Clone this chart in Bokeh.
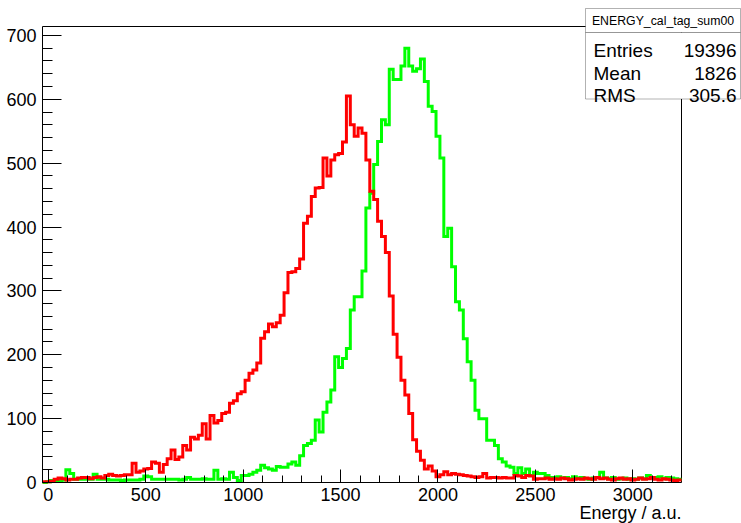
import numpy as np
from bokeh.plotting import figure
from bokeh.models import Range1d, SingleIntervalTicker, Label, BoxAnnotation, LinearAxis
from bokeh.embed import file_html
from bokeh.resources import INLINE

# ---- data ----
bin_start = -30
bin_width = 20
n_bins = 164

green_counts = [
    0, 1, 3, 3, 3, 4, 20, 14, 5, 5,
    5, 6, 5, 13, 5, 5, 5, 4, 4, 4,
    3, 4, 4,
    4, 4, 5, 10, 9, 5, 5, 5,
    5, 5, 5, 5, 4, 5, 8, 5, 5, 5,
    6, 5, 5, 19, 5, 6, 5, 16, 8, 3,
    11, 11, 13, 16, 19, 27, 23, 21, 19, 25,
    24, 24, 29, 32, 27, 42, 58, 61, 66, 98,
    79, 110, 126, 145, 197, 180, 194, 210, 270, 291,
    291, 331, 430, 453, 498, 534, 568, 560, 647, 631,
    631, 652, 680, 652, 644, 648, 663, 628, 589, 581,
    542, 508, 385, 398, 338, 283, 270, 225, 189, 160,
    113, 100, 100, 66, 66, 58, 37, 32, 26, 24,
    14, 23, 14, 21, 11, 16, 14,
    14,
    11, 8, 8,
    9, 7, 8, 6, 9, 7, 8, 6, 5, 7,
    8, 16, 7, 6, 8, 5, 6, 7, 5, 6,
    5, 7, 6, 11, 7, 8, 9, 6, 8, 7, 6, 5,
]

red_counts = [
    1, 1, 2, 5, 7, 6, 4, 5, 5, 7,
    8, 8, 6, 8, 9, 7, 11, 13, 11, 10,
    11, 12, 12,
    30, 16, 18, 21, 22, 32, 30, 16,
    28, 37, 51, 36, 40, 58, 51, 71, 68, 74,
    92, 68, 105, 93, 97, 108, 110, 124, 128, 139,
    142, 160, 171, 176, 187, 226, 236, 248, 244, 250,
    262, 297, 329, 330, 335, 350, 406, 417, 448, 461,
    462, 508, 480, 505, 513, 515, 533, 605, 560, 542,
    555, 547, 505, 456, 443, 409, 385, 360, 292, 232,
    196, 160, 137, 108, 67, 49, 35, 21, 26, 18,
    9, 12, 17, 12, 14, 13, 12, 11, 10, 9,
    8, 9, 14, 7, 8, 8, 7, 8, 7, 7,
    11, 10, 8, 11, 10, 5, 6,
    6,
    7, 5, 6,
    5, 7, 6, 4, 5, 6, 5, 7, 6, 5,
    8, 6, 7, 5, 4, 6, 7, 5, 6, 4,
    5, 7, 5, 6, 8, 5, 4, 6, 5, 4, 3, 4,
]

x_ticks_interval = 500
y_ticks_interval = 100
stats_title = "ENERGY_cal_tag_sum00"
stats_names = ["Entries", "Mean", "RMS"]
stats_values = ["19396", "1826", "305.6"]
x_title = "Energy / a.u."

# ---- geometry ----
edges = bin_start + bin_width * np.arange(n_bins + 1)
x0, x1 = float(edges[0]), float(edges[-1])
y0, y1 = 0.0, 1.05 * max(green_counts)

W, H = 741, 523
HL, HR, HT, HB = 42, 681, 26, 482          # histogram frame in canvas pixels
sx = (HR - HL) / (x1 - x0)
sy = (HB - HT) / (y1 - y0)
xr = Range1d(x0 - HL / sx, x1 + (W - HR) / sx)
yr = Range1d(y0 - (H - HB) / sy, y1 + HT / sy)

def dx(px):
    return x0 + (px - HL) / sx

def dy(py):
    return y0 + (HB - py) / sy

p = figure(width=W, height=H, x_range=xr, y_range=yr,
           output_backend="svg", toolbar_location=None,
           x_axis_location=None, y_axis_location=None,
           min_border=0, min_border_left=0, min_border_right=0,
           min_border_top=0, min_border_bottom=0)
p.background_fill_color = "white"
p.border_fill_color = "white"
p.outline_line_color = None
p.xgrid.visible = False
p.ygrid.visible = False

font = "Liberation Sans"
xax = LinearAxis(fixed_location=y0, bounds=(x0, x1),
                 ticker=SingleIntervalTicker(interval=x_ticks_interval, num_minor_ticks=5))
yax = LinearAxis(fixed_location=x0, bounds=(y0, y1),
                 ticker=SingleIntervalTicker(interval=y_ticks_interval, num_minor_ticks=5))
for ax in (xax, yax):
    ax.axis_line_color = "black"
    ax.axis_line_width = 1
    ax.major_tick_line_color = "black"
    ax.minor_tick_line_color = "black"
    ax.major_label_text_font = font
    ax.major_label_text_font_size = "18px"
    ax.major_label_text_color = "black"
    ax.major_tick_out = 0
    ax.minor_tick_out = 0
xax.major_tick_in = 13
xax.minor_tick_in = 7
yax.major_tick_in = 19
yax.minor_tick_in = 10
xax.major_label_standoff = 5
yax.major_label_standoff = 6
p.add_layout(xax, "below")
p.add_layout(yax, "left")

# frame top and right edges
p.segment(x0=[x0, x1], y0=[y1, y0], x1=[x1, x1], y1=[y1, y1],
          line_color="black", line_width=1)

gy = list(green_counts) + [green_counts[-1]]
ry = list(red_counts) + [red_counts[-1]]
p.step(x=edges, y=gy, mode="after", line_color="#00ff00", line_width=3, line_join="miter")
p.step(x=edges, y=ry, mode="after", line_color="#ff0000", line_width=3, line_join="miter")

# x axis title (right aligned at frame end)
p.add_layout(Label(x=dx(681), y=dy(502), text=x_title, text_font=font,
                   text_font_size="18px", text_align="right", text_baseline="top",
                   text_color="black"))

# stats box
p.add_layout(BoxAnnotation(left=dx(585), right=dx(740), top=dy(8), bottom=dy(32),
                           fill_color="white", fill_alpha=1, line_color="black",
                           line_width=1, level="overlay"))
p.add_layout(BoxAnnotation(left=dx(585), right=dx(740), top=dy(32), bottom=dy(98.5),
                           fill_color="white", fill_alpha=1, line_color="black",
                           line_width=1, level="overlay"))
p.add_layout(Label(x=dx(662.5), y=dy(20), text=stats_title, text_font=font,
                   text_font_size="12.3px", text_align="center", text_baseline="middle",
                   text_color="black", level="overlay"))
baselines = [50, 72.5, 94.5]
for name, val, by in zip(stats_names, stats_values, baselines):
    p.add_layout(Label(x=dx(593), y=dy(by), text=name, text_font=font,
                       text_font_size="19px", text_align="left", text_baseline="alphabetic",
                       text_color="black", level="overlay"))
    p.add_layout(Label(x=dx(736), y=dy(by), text=val, text_font=font,
                       text_font_size="19px", text_align="right", text_baseline="alphabetic",
                       text_color="black", level="overlay"))

open("out.html", "w").write(file_html(p, INLINE))
